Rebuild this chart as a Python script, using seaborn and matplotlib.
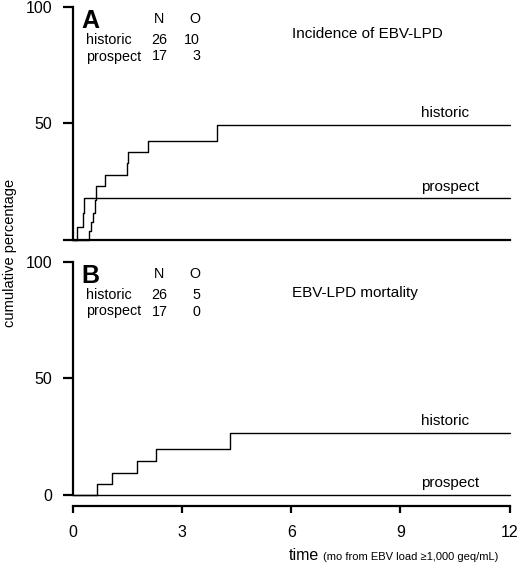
import matplotlib
matplotlib.use("Agg")
import matplotlib.pyplot as plt
import seaborn as sns
import pandas as pd

# --- DATA ---
x_ticks = [0, 3, 6, 9, 12]
y_ticks = [0, 50, 100]

# panel A: incidence of EBV-LPD
inc_hist_t = [0, 0.44, 0.49, 0.56, 0.60, 0.63, 0.88, 1.48, 1.52, 2.05, 3.97, 12]
inc_hist_pct = [0, 3.8, 7.7, 11.5, 17.0, 23.0, 27.9, 32.9, 37.6, 42.6, 49.4, 49.4]
inc_prosp_t = [0, 0.10, 0.27, 0.30, 12]
inc_prosp_pct = [0, 5.5, 11.5, 17.8, 17.8]

# panel B: EBV-LPD mortality
mort_hist_t = [0, 0.67, 1.08, 1.77, 2.27, 4.32, 12]
mort_hist_pct = [0, 4.7, 9.6, 14.5, 19.8, 26.4, 26.4]
mort_prosp_t = [0, 12]
mort_prosp_pct = [0, 0]

groups = ["historic", "prospect"]
inc_N = [26, 17]
inc_O = [10, 3]
mort_N = [26, 17]
mort_O = [5, 0]

W, H = 520, 566


def px(x, y):
    # pixel position -> figure fraction
    return x / W, 1 - y / H


sns.set_style("ticks")
plt.rcParams["font.family"] = ["Liberation Sans", "DejaVu Sans"]
for key in ["text.color", "axes.labelcolor", "xtick.color", "ytick.color", "axes.edgecolor"]:
    plt.rcParams[key] = "black"

fig = plt.figure(figsize=(5.2, 5.66), dpi=100)

x0, x12 = 73, 509.5
ax_a = fig.add_axes([x0 / W, 1 - 240 / H, (x12 - x0) / W, 233.3 / H])
ax_b = fig.add_axes([x0 / W, 1 - 495 / H, (x12 - x0) / W, 233.3 / H])

panels = [
    (ax_a, "A", "Incidence of EBV-LPD", inc_hist_t, inc_hist_pct, inc_prosp_t, inc_prosp_pct, inc_N, inc_O, 0),
    (ax_b, "B", "EBV-LPD mortality", mort_hist_t, mort_hist_pct, mort_prosp_t, mort_prosp_pct, mort_N, mort_O, 255),
]

for ax, letter, title, ht, hp, pt, pp, n_vals, o_vals, dy in panels:
    df = pd.concat([
        pd.DataFrame({"time": ht, "pct": hp, "group": "historic"}),
        pd.DataFrame({"time": pt, "pct": pp, "group": "prospect"}),
    ])
    for g in groups:
        sub = df[df["group"] == g]
        sns.lineplot(data=sub, x="time", y="pct", ax=ax, color="black", lw=1.0,
                     drawstyle="steps-post", estimator=None, clip_on=False)
        # label sitting above the end of each curve
        ax.text(9.58, sub["pct"].iloc[-1] + 3.4, g, fontsize=11, va="baseline", ha="left")

    ax.set_xlim(0, 12)
    ax.set_ylim(0, 100)
    ax.set_xlabel("")
    ax.set_ylabel("")
    ax.set_yticks(y_ticks)
    for s in ["top", "right"]:
        ax.spines[s].set_visible(False)
    for s in ["left", "bottom"]:
        ax.spines[s].set_linewidth(1.6)
    ax.tick_params(axis="y", length=7, width=1.6, pad=8, labelsize=11.5)

    # panel letter and N / O table
    fig.text(*px(81.7, 28.3 + dy), letter, fontsize=18, fontweight="bold", va="baseline")
    fig.text(*px(159.3, 23.3 + dy), "N", fontsize=10.3, ha="center", va="baseline")
    fig.text(*px(200, 23.3 + dy), "O", fontsize=10.3, ha="right", va="baseline")
    for i, g in enumerate(groups):
        yb = 44 + 16.5 * i + dy
        fig.text(*px(86, yb), g, fontsize=10.3, va="baseline")
        fig.text(*px(151.7, yb), str(n_vals[i]), fontsize=10.3, va="baseline")
        fig.text(*px(200, yb), str(o_vals[i]), fontsize=10.3, ha="right", va="baseline")
    fig.text(*px(292, 38.3 + dy + (4 if dy else 0)), title, fontsize=11, va="baseline")

# panel A: no x axis ticks, no "0" label (it would hit panel B)
ax_a.tick_params(axis="x", bottom=False, labelbottom=False)
ax_a.set_yticklabels(["", "50", "100"])

# panel B: x axis pushed below the zero line
ax_b.spines["bottom"].set_position(("outward", 7.7))
ax_b.set_xticks(x_ticks)
ax_b.tick_params(axis="x", length=5, width=1.6, pad=9, labelsize=11.5)

fig.text(*px(10.5, 252.5), "cumulative percentage", rotation=90, fontsize=10.5,
         ha="center", va="center")
fig.text(*px(288.3, 560), "time", fontsize=11.5, va="baseline")
fig.text(*px(323, 560), "(mo from EBV load \u22651,000 geq/mL)", fontsize=8, va="baseline")

plt.savefig("out.png", dpi=100)
